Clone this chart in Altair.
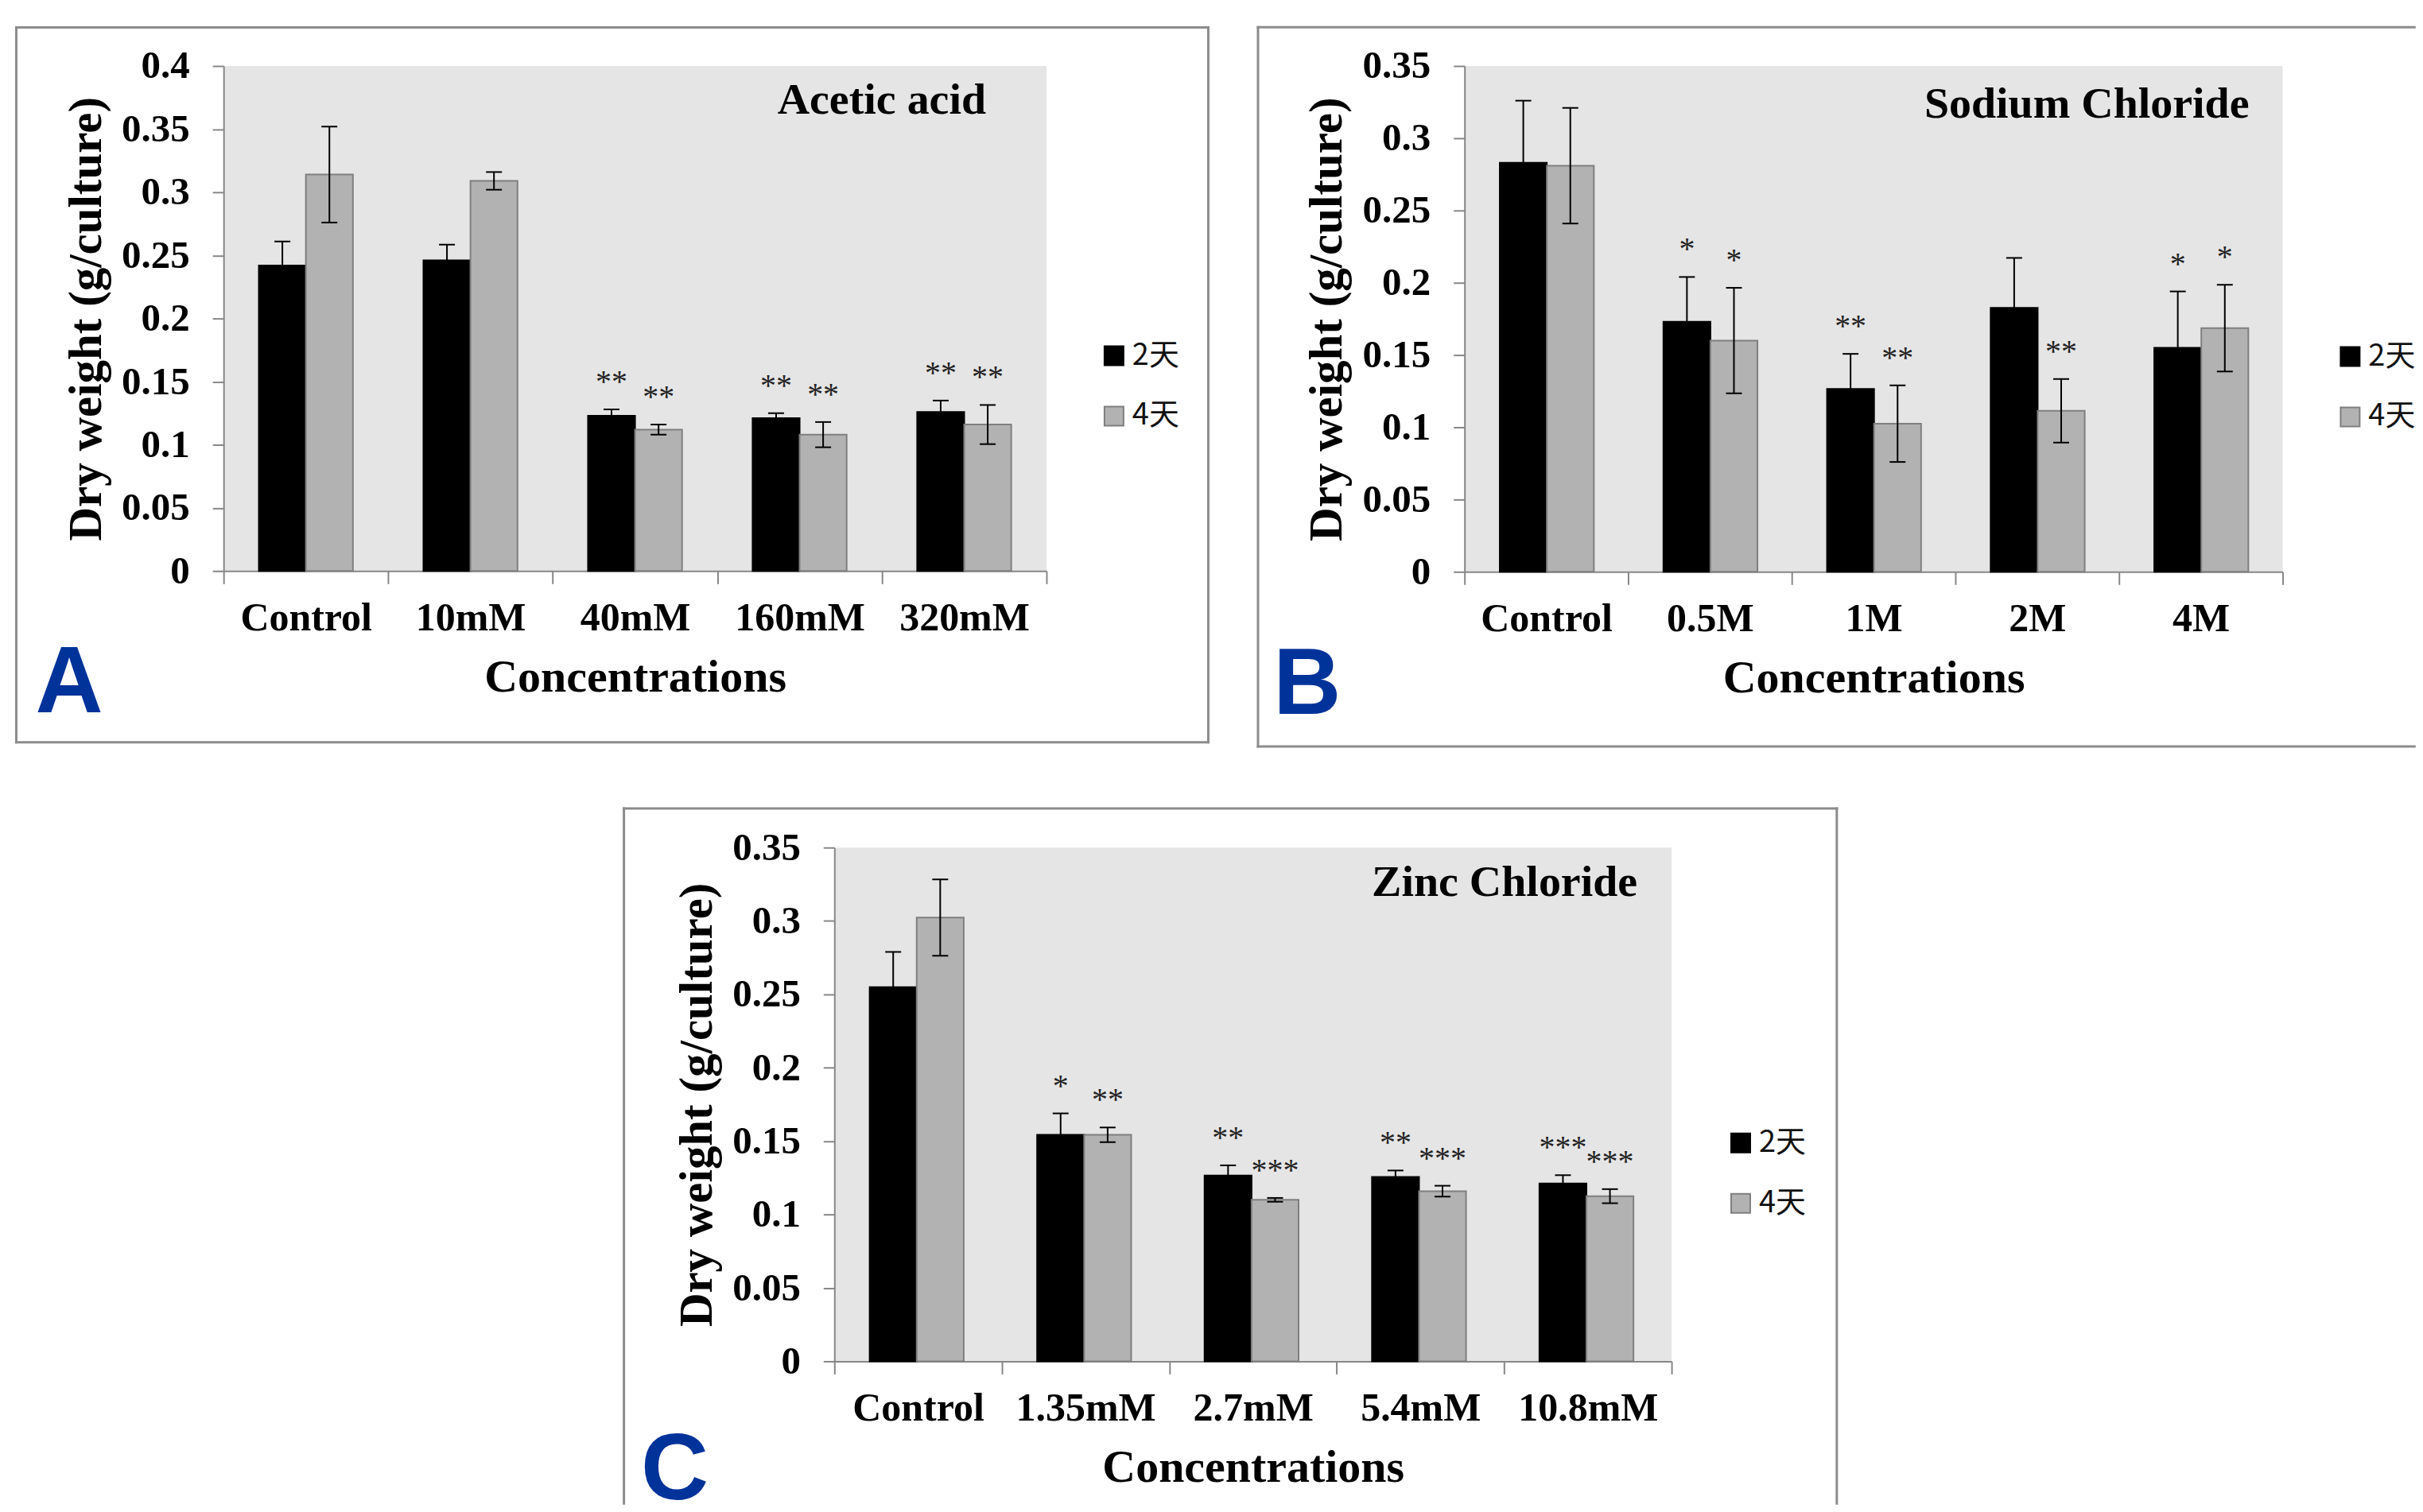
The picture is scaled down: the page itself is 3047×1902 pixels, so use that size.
import altair as alt
import pandas as pd

SERIES = ["2天", "4天"]

# ---- Panel A : Acetic acid ----
a_cats = ["Control", "10mM", "40mM", "160mM", "320mM"]
a_day2 = [0.242, 0.246, 0.123, 0.121, 0.126]
a_day4 = [0.314, 0.309, 0.112, 0.108, 0.116]
a_err2 = [0.019, 0.0125, 0.005, 0.004, 0.009]
a_err4 = [0.038, 0.007, 0.004, 0.010, 0.0155]
a_sig2 = ["", "", "**", "**", "**"]
a_sig4 = ["", "", "**", "**", "**"]

# ---- Panel B : Sodium Chloride ----
b_cats = ["Control", "0.5M", "1M", "2M", "4M"]
b_day2 = [0.283, 0.173, 0.1265, 0.1827, 0.155]
b_day4 = [0.281, 0.160, 0.1025, 0.1114, 0.1686]
b_err2 = [0.043, 0.031, 0.0243, 0.0345, 0.039]
b_err4 = [0.040, 0.0365, 0.0265, 0.022, 0.030]
b_sig2 = ["", "*", "**", "", "*"]
b_sig4 = ["", "*", "**", "**", "*"]

# ---- Panel C : Zinc Chloride ----
c_cats = ["Control", "1.35mM", "2.7mM", "5.4mM", "10.8mM"]
c_day2 = [0.2549, 0.1543, 0.1265, 0.1256, 0.1212]
c_day4 = [0.3023, 0.1543, 0.1100, 0.1159, 0.1125]
c_err2 = [0.024, 0.0146, 0.007, 0.0044, 0.0056]
c_err4 = [0.026, 0.005, 0.0013, 0.0037, 0.0048]
c_sig2 = ["", "*", "**", "**", "***"]
c_sig4 = ["", "**", "***", "***", "***"]

ticks_a = [0, 0.05, 0.1, 0.15, 0.2, 0.25, 0.3, 0.35, 0.4]
ticks_bc = [0, 0.05, 0.1, 0.15, 0.2, 0.25, 0.3, 0.35]

SERIF = "Liberation Serif"
SANS = "Liberation Sans"
CJK = "Noto Sans CJK SC"
AXIS_GRAY = "#878787"
BORDER_GRAY = "#8c8c8c"
BLUE = "#00339a"
PLOT_BG = "#e5e5e5"


def long_df(cats, d2, d4, e2, e4, s2, s4):
    rows = []
    for i, c in enumerate(cats):
        for s, m, e, t in ((SERIES[0], d2[i], e2[i], s2[i]), (SERIES[1], d4[i], e4[i], s4[i])):
            rows.append(dict(cat=c, series=s, mean=m, lo=m - e, hi=m + e, sig=t))
    return pd.DataFrame(rows)


def one_row():
    return pd.DataFrame({"k": [0]})


def rule(x1, y1, x2, y2):
    return alt.Chart(one_row()).mark_rule(color=BORDER_GRAY, strokeWidth=3, strokeCap="square").encode(
        x=alt.value(x1), x2=alt.value(x2), y=alt.value(y1), y2=alt.value(y2))


def panel(df, cats, ymax, yticks, w, h, title, title_x, title_y,
          letter, letter_x, letter_y, leg_x, leg_y, borders):
    xs = alt.Scale(domain=cats, paddingInner=0, paddingOuter=0)
    xo = alt.XOffset("series:N", scale=alt.Scale(domain=SERIES, paddingInner=0, paddingOuter=0.75))
    ys = alt.Scale(domain=[0, ymax], nice=False, zero=True)
    x_axis = alt.Axis(
        title="Concentrations", labelAngle=0, tickBand="extent", tickSize=16, tickWidth=2,
        tickColor=AXIS_GRAY, domainColor=AXIS_GRAY, domainWidth=2, grid=False,
        labelFont=SERIF, labelFontWeight="bold", labelFontSize=50, labelColor="black",
        labelBaseline="alphabetic", labelPadding=58, labelLimit=0, labelOverlap=False,
        titleFont=SERIF, titleFontWeight="bold", titleFontSize=58, titleColor="black",
        titleX=w / 2, titleY=151, titleBaseline="alphabetic", titleAlign="center", titleLimit=2000)
    y_axis = alt.Axis(
        title="Dry weight (g/culture)", values=yticks, format="~g", tickSize=14, tickWidth=2,
        tickColor=AXIS_GRAY, domainColor=AXIS_GRAY, domainWidth=2, grid=False,
        labelFont=SERIF, labelFontWeight="bold", labelFontSize=49, labelColor="black",
        labelBaseline="middle", labelPadding=29, labelLimit=0,
        titleFont=SERIF, titleFontWeight="bold", titleFontSize=59, titleColor="black",
        titleAngle=270, titleX=-155, titleY=h / 2, titleBaseline="alphabetic",
        titleAlign="center", titleLimit=2000)
    leg = alt.Legend(
        title=None, orient="none", legendX=leg_x, legendY=leg_y, symbolType="square",
        symbolSize=576, symbolStrokeWidth=2, labelFont=CJK, labelFontSize=38,
        labelColor="#111111", labelOffset=4, rowPadding=38, padding=0)
    base = alt.Chart(df)
    X = alt.X("cat:N", sort=cats, scale=xs, axis=x_axis)

    def Y(field):
        return alt.Y(field, type="quantitative", scale=ys, axis=y_axis, stack=False)

    bars = base.mark_bar(strokeWidth=2).encode(
        x=X, xOffset=xo, y=Y("mean"),
        fill=alt.Fill("series:N", scale=alt.Scale(domain=SERIES, range=["#000000", "#b2b2b2"]), legend=leg),
        stroke=alt.Stroke("series:N", scale=alt.Scale(domain=SERIES, range=["#000000", "#7f7f7f"]), legend=leg),
    )
    err = base.mark_rule(color="black", strokeWidth=2).encode(
        x=X, xOffset=xo, y=Y("lo"), y2="hi:Q")
    cap_hi = base.mark_tick(color="black", thickness=2, size=20, opacity=1).encode(
        x=X, xOffset=xo, y=Y("hi"))
    cap_lo = base.mark_tick(color="black", thickness=2, size=20, opacity=1).encode(
        x=X, xOffset=xo, y=Y("lo"))
    stars = base.mark_text(font=SERIF, fontSize=40, color="#222222", dy=-22, baseline="alphabetic").encode(
        x=X, xOffset=xo, y=Y("hi"), text="sig:N")
    title_t = alt.Chart(one_row()).mark_text(
        font=SERIF, fontWeight="bold", fontSize=56, color="black", align="right", baseline="alphabetic"
    ).encode(x=alt.value(title_x), y=alt.value(title_y), text=alt.value(title))
    letter_t = alt.Chart(one_row()).mark_text(
        font=SANS, fontWeight="bold", fontSize=118, color=BLUE, align="left", baseline="alphabetic"
    ).encode(x=alt.value(letter_x), y=alt.value(letter_y), text=alt.value(letter))
    layers = [bars, err, cap_hi, cap_lo, stars, title_t, letter_t] + [rule(*b) for b in borders]
    return alt.layer(*layers).properties(
        width=w, height=h, view=alt.ViewBackground(fill=PLOT_BG, strokeWidth=0))


df_a = long_df(a_cats, a_day2, a_day4, a_err2, a_err4, a_sig2, a_sig4)
df_b = long_df(b_cats, b_day2, b_day4, b_err2, b_err4, b_sig2, b_sig4)
df_c = long_df(c_cats, c_day2, c_day4, c_err2, c_err4, c_sig2, c_sig4)

# panel A: plot 1036 x 636
A = panel(df_a, a_cats, 0.4, ticks_a, 1036, 636, "Acetic acid", 960, 60,
          "A", -237, 813.5, 1102, 346,
          [(-261, -48.5, 1239.7, -48.5), (-261, 851.7, 1239.7, 851.7),
           (-261, -48.5, -261, 851.7), (1239.7, -48.5, 1239.7, 851.7)])

# panel B: plot 1030 x 637 (right side of frame runs off the figure)
B = panel(df_b, b_cats, 0.35, ticks_bc, 1030, 637, "Sodium Chloride", 988, 65,
          "B", -240.6, 816, 1096, 347,
          [(-260, -48.8, 1196, -48.8), (-260, 857, 1196, 857), (-260, -48.8, -260, 857)])

# panel C: plot 1054 x 647 (bottom of frame runs off the figure)
C = panel(df_c, c_cats, 0.35, ticks_bc, 1054, 647, "Zinc Chloride", 1011, 61,
          "C", -243.5, 821, 1122, 353,
          [(-265, -49.2, 1262, -49.2), (-265, -49.2, -265, 826), (1262, -49.2, 1262, 826)])

SP_W = 500.5
spacer = alt.Chart(one_row()).mark_rect(fill="white").encode(
    x=alt.value(0), x2=alt.value(SP_W), y=alt.value(0), y2=alt.value(4)
).properties(width=SP_W, height=4)

top = alt.hconcat(A, B, spacing=57.3).resolve_scale(fill="independent", stroke="independent").resolve_legend(
    fill="independent", stroke="independent")
bottom = alt.hconcat(spacer, C, spacing=0).resolve_scale(fill="independent", stroke="independent").resolve_legend(
    fill="independent", stroke="independent")

chart = alt.vconcat(top, bottom, spacing=72.3).resolve_scale(
    fill="independent", stroke="independent").resolve_legend(
    fill="independent", stroke="independent").properties(
    padding={"left": 9.5, "top": 23, "right": 0, "bottom": 0}, background="white"
).configure_view(strokeWidth=0)

chart.save("out.html", embed_options={"renderer": "svg", "actions": False})
